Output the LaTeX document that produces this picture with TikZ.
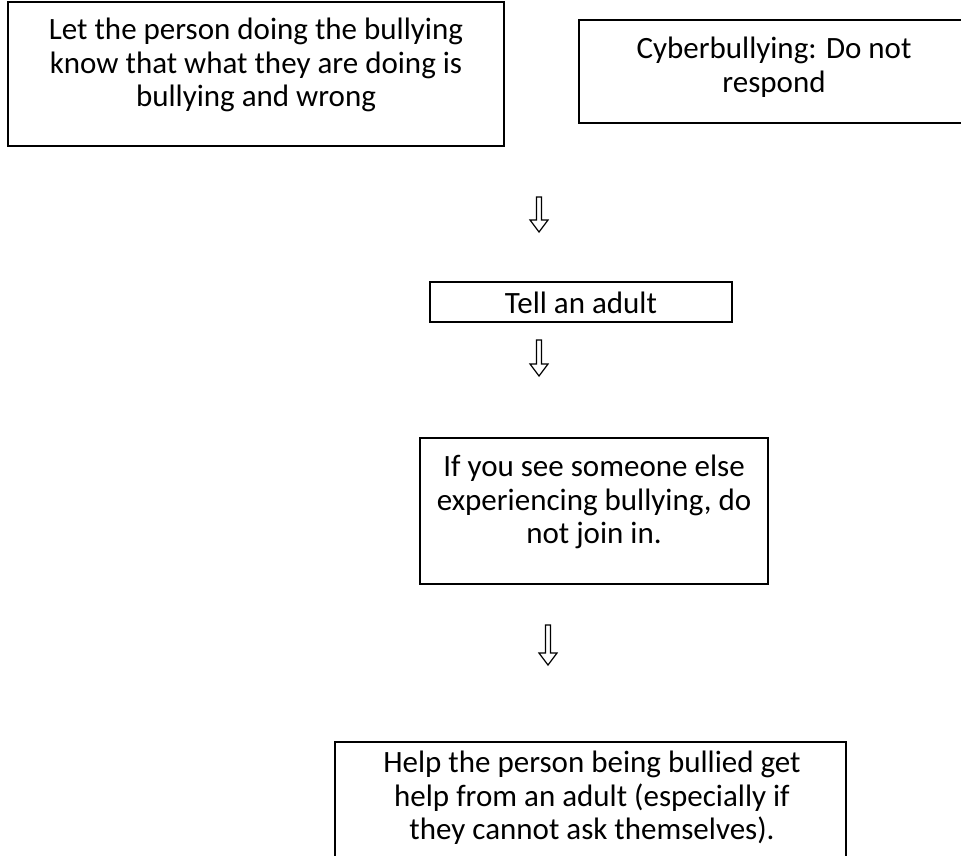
\documentclass[tikz,border=0pt]{standalone}
\usepackage{fontspec}
\setmainfont{Carlito}
\usepackage{tikz}

\tikzset{
  box/.style={draw, line width=1.6pt, inner sep=0pt},
  txt/.style={align=center, inner sep=0pt, font=\fontsize{31}{33.5}\selectfont},
  hollow/.style={draw, line width=1.2pt, line join=miter}
}

\begin{document}
\begin{tikzpicture}[x=1pt, y=-1pt]
                \useasboundingbox (0,0) rectangle (961,855);

                % Top boxes
                \node[box, minimum width=496pt, minimum height=144pt] (advise) at (256,74) {};
                \node[txt] (advise text) at (256,65) {Let the person doing the bullying\\know that what they are doing is\\bullying and wrong};
                \node[box, minimum width=390pt, minimum height=103pt] (cyber) at (774,71.5) {};
                \node[txt] (cyber text) at (774,67) {Cyberbullying: Do not\\respond};

                % Middle boxes
                \node[box, minimum width=302pt, minimum height=40pt] (adult) at (581,302) {};
                \node[txt] (adult text) at (581,303) {Tell an adult};
                \node[box, minimum width=348pt, minimum height=146pt] (join) at (594,511) {};
                \node[txt] (join text) at (594,502) {If you see someone else\\experiencing bullying, do\\not join in.};

                % Bottom box
                \node[box, minimum width=511pt, minimum height=130pt] (help) at (590.5,807) {};
                \node[txt] (help text) at (592,798) {Help the person being bullied get\\help from an adult (especially if\\they cannot ask themselves).};

                % Arrows
                \coordinate (a1) at (539,197);
                \coordinate (a2) at (539,340);
                \coordinate (a3) at (548,625);
                \draw[hollow] (a1) ++(-2.5,0) -- ++(0,23) -- ++(-6.5,0) -- ++(9,12) -- ++(9,-12) -- ++(-6.5,0) -- ++(0,-23) -- cycle;
                \draw[hollow] (a2) ++(-2.5,0) -- ++(0,24) -- ++(-6.5,0) -- ++(9,12) -- ++(9,-12) -- ++(-6.5,0) -- ++(0,-24) -- cycle;
                \draw[hollow] (a3) ++(-2.5,0) -- ++(0,28) -- ++(-6.5,0) -- ++(9,12) -- ++(9,-12) -- ++(-6.5,0) -- ++(0,-28) -- cycle;
\end{tikzpicture}
\end{document}
